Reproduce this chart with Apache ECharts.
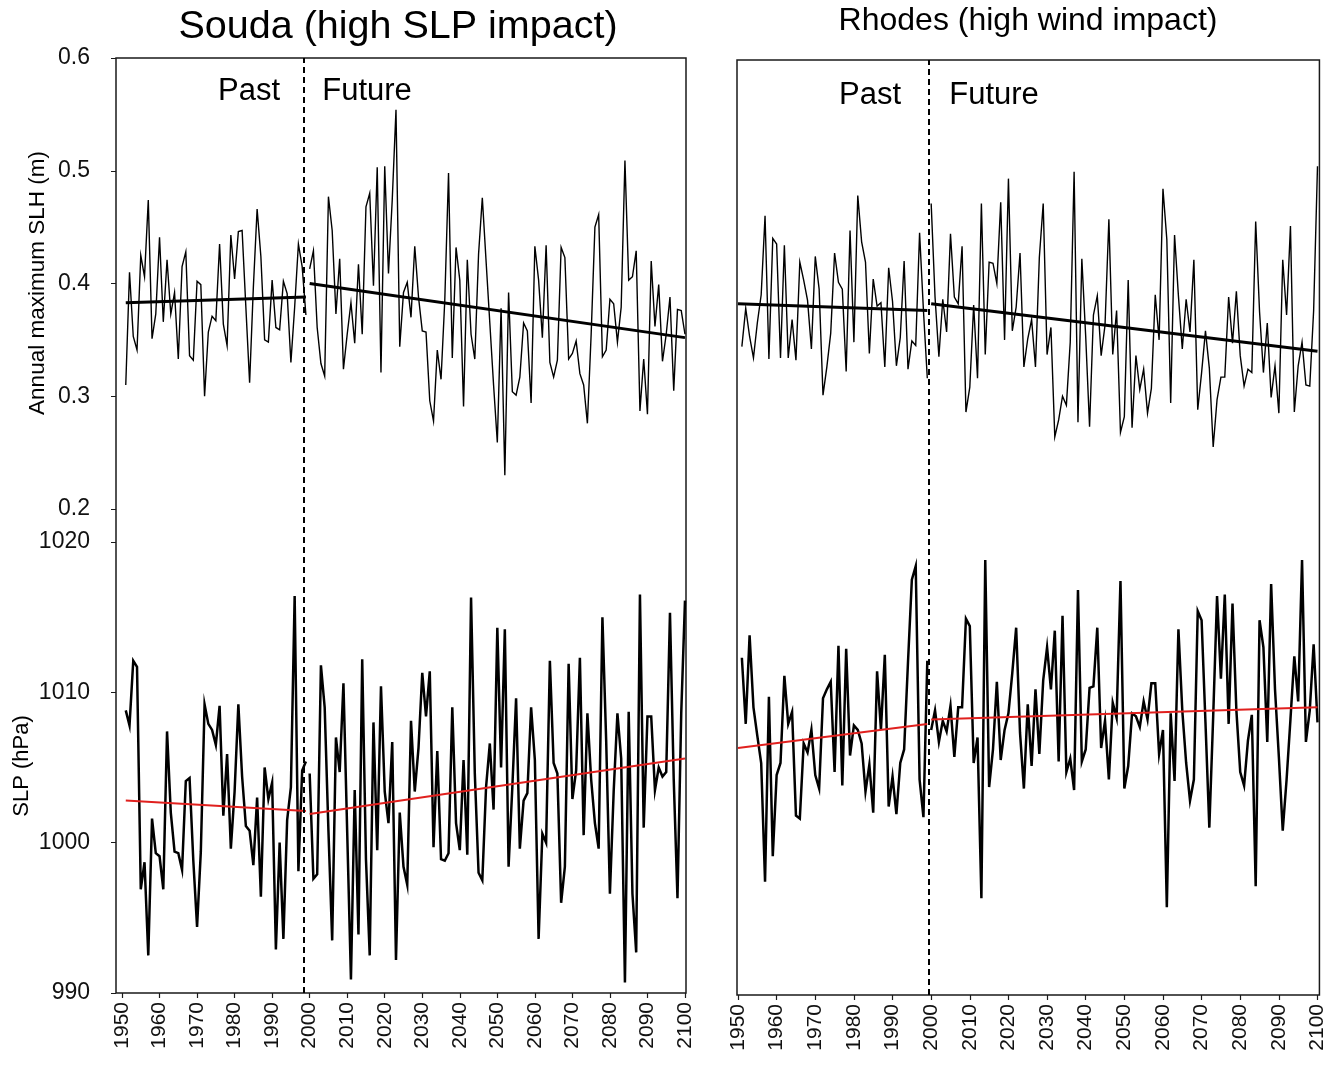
<!DOCTYPE html>
<html>
<head>
<meta charset="utf-8">
<script src="https://cdn.jsdelivr.net/npm/echarts@6/dist/echarts.min.js"></script>
<style>
  html, body { margin: 0; padding: 0; background: #fff; }
  #chart { width: 1328px; height: 1069px; }
</style>
</head>
<body>
<div id="chart"></div>
<script>
// ---- tick labels ----
const decadeTicks = [1950, 1960, 1970, 1980, 1990, 2000, 2010, 2020, 2030, 2040, 2050, 2060, 2070, 2080, 2090, 2100];
const slhTicks = [0.2, 0.3, 0.4, 0.5, 0.6];
const slpTicks = [990, 1000, 1010, 1020];

// ---- Souda: annual maximum sea level height (m) ----
const soudaSlhPastStart = 1951;
const soudaSlhPast = [
  0.310, 0.410, 0.353, 0.341, 0.425, 0.406, 0.474, 0.351, 0.373, 0.441,
  0.366, 0.421, 0.373, 0.392, 0.333, 0.415, 0.428, 0.336, 0.332, 0.402,
  0.399, 0.300, 0.357, 0.371, 0.367, 0.435, 0.364, 0.345, 0.443, 0.404,
  0.446, 0.447, 0.379, 0.312, 0.397, 0.466, 0.424, 0.350, 0.348, 0.403,
  0.361, 0.359, 0.402, 0.391, 0.330, 0.379, 0.435, 0.415, 0.372
];
const soudaSlhFutureStart = 2000;
const soudaSlhFuture = [
  0.413, 0.429, 0.361, 0.329, 0.318, 0.477, 0.447, 0.373, 0.422, 0.324,
  0.355, 0.383, 0.347, 0.417, 0.355, 0.468, 0.480, 0.398, 0.503, 0.321,
  0.504, 0.409, 0.474, 0.554, 0.344, 0.392, 0.401, 0.370, 0.433, 0.388,
  0.358, 0.357, 0.296, 0.278, 0.341, 0.315, 0.385, 0.498, 0.334, 0.432,
  0.403, 0.291, 0.421, 0.355, 0.333, 0.426, 0.476, 0.420, 0.365, 0.310,
  0.259, 0.378, 0.230, 0.392, 0.304, 0.301, 0.317, 0.365, 0.358, 0.294,
  0.433, 0.403, 0.352, 0.434, 0.330, 0.317, 0.332, 0.432, 0.423, 0.333,
  0.338, 0.349, 0.320, 0.310, 0.276, 0.355, 0.450, 0.461, 0.335, 0.341,
  0.386, 0.382, 0.348, 0.379, 0.509, 0.403, 0.406, 0.429, 0.287, 0.333,
  0.284, 0.420, 0.362, 0.399, 0.331, 0.355, 0.388, 0.305, 0.377, 0.376,
  0.355
];
const soudaSlhTrendPast = [[1951, 0.383], [1999, 0.388]];
const soudaSlhTrendFuture = [[2000, 0.400], [2100, 0.352]];

// ---- Souda: sea level pressure (hPa) ----
const soudaSlpPastStart = 1951;
const soudaSlpPast = [
  1008.8, 1007.8, 1012.1, 1011.7, 996.9, 998.7, 992.5, 1001.6, 999.3, 999.1,
  996.9, 1007.4, 1002.0, 999.4, 999.3, 998.2, 1004.1, 1004.3, 998.8, 994.4,
  999.4, 1009.2, 1007.9, 1007.5, 1006.5, 1009.1, 1001.8, 1005.9, 999.6, 1003.4,
  1009.2, 1004.4, 1001.1, 1000.8, 998.5, 1003.0, 996.4, 1005.0, 1002.9, 1004.0,
  992.9, 1000.0, 993.6, 1001.5, 1003.7, 1016.4, 998.1, 1004.8, 1005.4
];
const soudaSlpFutureStart = 2000;
const soudaSlpFuture = [
  1004.6, 997.6, 997.9, 1011.8, 1009.0, 1000.8, 993.5, 1007.0, 1004.7, 1010.6,
  1000.7, 990.9, 1003.5, 993.9, 1012.2, 998.9, 992.5, 1008.0, 999.5, 1010.4,
  1003.4, 1001.3, 1006.7, 992.2, 1002.0, 998.4, 997.2, 1008.1, 1003.4, 1006.3,
  1011.3, 1008.4, 1011.4, 999.7, 1006.1, 998.9, 998.8, 999.3, 1009.0, 1001.3,
  999.5, 1005.5, 999.2, 1016.3, 1004.6, 998.0, 997.5, 1003.7, 1006.6, 1002.2,
  1014.3, 1005.0, 1014.2, 998.4, 1003.7, 1009.6, 999.6, 1002.8, 1003.3, 1009.0,
  1005.5, 993.6, 1000.6, 1000.0, 1012.1, 1005.3, 1004.6, 996.0, 998.4, 1011.9,
  1002.9, 1004.8, 1012.3, 1000.5, 1008.6, 1004.2, 1001.3, 999.6, 1015.0, 1006.8,
  996.6, 1003.4, 1008.6, 1005.6, 990.7, 1008.7, 996.6, 992.7, 1016.5, 1001.0,
  1008.4, 1008.4, 1003.5, 1005.0, 1004.4, 1004.7, 1015.3, 1004.2, 996.3, 1008.6,
  1016.1
];
const soudaSlpTrendPast = [[1951, 1002.8], [1999, 1002.1]];
const soudaSlpTrendFuture = [[2000, 1001.9], [2100, 1005.6]];

// ---- Rhodes: annual maximum sea level height (m) ----
const rhodesSlhPastStart = 1951;
const rhodesSlhPast = [
  0.344, 0.378, 0.353, 0.334, 0.365, 0.390, 0.460, 0.333, 0.440, 0.435,
  0.334, 0.434, 0.334, 0.368, 0.332, 0.419, 0.403, 0.385, 0.342, 0.424,
  0.395, 0.301, 0.326, 0.356, 0.427, 0.401, 0.395, 0.322, 0.447, 0.348,
  0.478, 0.437, 0.419, 0.338, 0.404, 0.380, 0.383, 0.326, 0.414, 0.384,
  0.327, 0.352, 0.420, 0.324, 0.349, 0.345, 0.445, 0.376, 0.316
];
const rhodesSlhFutureStart = 2000;
const rhodesSlhFuture = [
  0.471, 0.388, 0.335, 0.386, 0.357, 0.444, 0.388, 0.382, 0.433, 0.286,
  0.308, 0.381, 0.316, 0.471, 0.337, 0.419, 0.418, 0.400, 0.472, 0.350,
  0.493, 0.358, 0.379, 0.427, 0.326, 0.351, 0.368, 0.326, 0.423, 0.471,
  0.337, 0.361, 0.264, 0.279, 0.300, 0.292, 0.348, 0.499, 0.277, 0.422,
  0.353, 0.273, 0.372, 0.389, 0.336, 0.363, 0.457, 0.337, 0.376, 0.268,
  0.282, 0.403, 0.272, 0.336, 0.306, 0.324, 0.285, 0.307, 0.390, 0.350,
  0.484, 0.439, 0.294, 0.443, 0.389, 0.342, 0.386, 0.357, 0.421, 0.288,
  0.321, 0.358, 0.325, 0.255, 0.297, 0.317, 0.317, 0.388, 0.347, 0.393,
  0.336, 0.309, 0.324, 0.321, 0.455, 0.375, 0.321, 0.365, 0.299, 0.327,
  0.285, 0.421, 0.372, 0.451, 0.286, 0.327, 0.348, 0.310, 0.309, 0.376,
  0.504
];
const rhodesSlhTrendPast = [[1950, 0.382], [1999, 0.376]];
const rhodesSlhTrendFuture = [[2000, 0.382], [2100, 0.340]];

// ---- Rhodes: sea level pressure (hPa) ----
const rhodesSlpPastStart = 1951;
const rhodesSlpPast = [
  1012.3, 1007.9, 1013.8, 1009.0, 1007.1, 1005.3, 997.4, 1009.7, 999.1, 1004.5,
  1005.3, 1011.1, 1007.9, 1008.7, 1001.8, 1001.6, 1006.6, 1006.0, 1007.5, 1004.5,
  1003.6, 1009.6, 1010.2, 1010.7, 1004.7, 1013.1, 1003.8, 1012.9, 1005.8, 1007.8,
  1007.5, 1006.6, 1003.4, 1005.2, 1002.0, 1011.4, 1007.5, 1012.5, 1002.4, 1004.4,
  1001.9, 1005.3, 1006.2, 1012.0, 1017.5, 1018.4, 1004.2, 1001.7, 1012.1
];
const rhodesSlpFutureStart = 2000;
const rhodesSlpFuture = [
  1007.5, 1008.8, 1006.7, 1008.1, 1007.4, 1009.1, 1005.7, 1009.0, 1009.0, 1014.9,
  1014.4, 1005.3, 1007.0, 996.3, 1018.8, 1003.7, 1006.2, 1010.7, 1005.5, 1007.5,
  1008.6, 1011.3, 1014.3, 1007.3, 1003.6, 1009.2, 1005.1, 1010.2, 1005.9, 1010.8,
  1013.0, 1010.2, 1014.1, 1005.4, 1015.1, 1004.7, 1005.6, 1003.5, 1016.8, 1005.4,
  1006.2, 1010.3, 1010.4, 1014.3, 1006.3, 1008.1, 1004.2, 1009.3, 1008.3, 1017.4,
  1003.6, 1005.1, 1008.6, 1008.4, 1007.7, 1009.4, 1008.2, 1010.6, 1010.6, 1005.9,
  1007.5, 995.7, 1008.6, 1004.1, 1014.2, 1008.8, 1005.3, 1002.8, 1004.2, 1015.4,
  1014.8, 1008.0, 1001.0, 1008.4, 1016.4, 1010.9, 1016.5, 1007.9, 1015.9, 1008.8,
  1004.7, 1003.8, 1006.8, 1008.5, 997.1, 1014.8, 1013.0, 1006.7, 1017.2, 1010.2,
  1005.7, 1000.8, 1004.2, 1008.2, 1012.4, 1009.4, 1018.8, 1006.7, 1008.8, 1013.2,
  1008.0
];
const rhodesSlpTrendPast = [[1950, 1006.3], [1999, 1007.9]];
const rhodesSlpTrendFuture = [[2000, 1008.2], [2100, 1009.0]];

// year separating the past and future periods in each panel
const soudaSplitYear = 1998.3;
const rhodesSplitYear = 1999.4;

// ---- layout helpers ----
const FONT = '"Liberation Sans", Arial, sans-serif';
const toPairs = (start, values) => values.map((v, i) => [start + i, v]);

// Each panel is one framed grid holding two stacked y scales:
// the sea level scale fills the upper part, the pressure scale the lower part.
// Pixel anchors: 0.6 m at y=58, 0.2 m at y=509, 1020 hPa at y=542, 990 hPa at y=993.
function slhExtent(top, bottom) {
  const perPx = 0.4 / (509 - 58);
  return { max: 0.6 - (top - 58) * perPx, min: 0.6 - (bottom - 58) * perPx };
}
function slpExtent(top, bottom) {
  const perPx = 30 / (993 - 542);
  return { max: 1020 + (542 - top) * perPx, min: 990 - (bottom - 993) * perPx };
}

const panels = [
  { left: 116, top: 58, width: 570, height: 935, xMin: 1948.4, xMax: 2100.27, labels: true },
  { left: 737, top: 60, width: 586, height: 935, xMin: 1949.74, xMax: 2100.5, labels: false }
];

const grid = panels.map(p => ({
  left: p.left, top: p.top, width: p.width, height: p.height,
  show: true, borderColor: '#1a1a1a', borderWidth: 1.5, backgroundColor: 'transparent'
}));

const xAxis = panels.map((p, i) => ({
  type: 'value', gridIndex: i, min: p.xMin, max: p.xMax, position: 'bottom',
  axisLine: { show: false, onZero: false },
  splitLine: { show: false },
  axisTick: { show: true, customValues: decadeTicks, length: 5, lineStyle: { color: '#1a1a1a', width: 1.2 } },
  axisLabel: {
    customValues: decadeTicks, rotate: 90, margin: 9,
    formatter: v => String(v),
    color: '#111', fontFamily: FONT, fontSize: 21
  }
}));

const yAxis = [];
panels.forEach((p, i) => {
  const bottom = p.top + p.height;
  const a = slhExtent(p.top, bottom);
  const b = slpExtent(p.top, bottom);
  [[a, slhTicks, v => v.toFixed(1)], [b, slpTicks, v => String(v)]].forEach(([ext, ticks, fmt]) => {
    yAxis.push({
      type: 'value', gridIndex: i, min: ext.min, max: ext.max, position: 'left', offset: 0,
      axisLine: { show: false, onZero: false }, splitLine: { show: false },
      axisTick: { show: p.labels, customValues: ticks, length: 5, lineStyle: { color: '#1a1a1a' } },
      axisLabel: {
        show: p.labels, customValues: ticks, margin: 26, formatter: fmt,
        color: '#111', fontFamily: FONT, fontSize: 23
      }
    });
  });
});

function line(xi, yi, data, width, color, z) {
  return {
    type: 'line', xAxisIndex: xi, yAxisIndex: yi, data,
    showSymbol: false, symbol: 'none', animation: false, silent: true,
    lineStyle: { color, width, join: 'miter' }, z: z || 2
  };
}

const series = [
  // Souda
  line(0, 0, toPairs(soudaSlhPastStart, soudaSlhPast), 1.4, '#000'),
  line(0, 0, toPairs(soudaSlhFutureStart, soudaSlhFuture), 1.4, '#000'),
  line(0, 0, soudaSlhTrendPast, 3, '#000', 4),
  line(0, 0, soudaSlhTrendFuture, 3, '#000', 4),
  line(0, 1, toPairs(soudaSlpPastStart, soudaSlpPast), 2.5, '#000'),
  line(0, 1, toPairs(soudaSlpFutureStart, soudaSlpFuture), 2.5, '#000'),
  line(0, 1, soudaSlpTrendPast, 2, '#e0201e', 4),
  line(0, 1, soudaSlpTrendFuture, 2, '#e0201e', 4),
  // Rhodes
  line(1, 2, toPairs(rhodesSlhPastStart, rhodesSlhPast), 1.4, '#000'),
  line(1, 2, toPairs(rhodesSlhFutureStart, rhodesSlhFuture), 1.4, '#000'),
  line(1, 2, rhodesSlhTrendPast, 3, '#000', 4),
  line(1, 2, rhodesSlhTrendFuture, 3, '#000', 4),
  line(1, 3, toPairs(rhodesSlpPastStart, rhodesSlpPast), 2.5, '#000'),
  line(1, 3, toPairs(rhodesSlpFutureStart, rhodesSlpFuture), 2.5, '#000'),
  line(1, 3, rhodesSlpTrendPast, 2, '#e0201e', 4),
  line(1, 3, rhodesSlpTrendFuture, 2, '#e0201e', 4)
];

// dashed separators between the past and future periods
[[0, 0, soudaSplitYear], [1, 2, rhodesSplitYear]].forEach(([xi, yi, yr]) => {
  series.push({
    type: 'line', xAxisIndex: xi, yAxisIndex: yi, data: [], silent: true, animation: false,
    markLine: {
      silent: true, symbol: 'none', animation: false,
      label: { show: false },
      lineStyle: { color: '#000', width: 2, type: [6, 4] },
      data: [{ xAxis: yr }]
    }
  });
});

function text(x, y, str, size, extra, family) {
  return Object.assign({
    type: 'text', x, y, silent: true,
    style: {
      text: str, fill: '#000', font: `${size}px ${family || FONT}`,
      textAlign: 'center', textVerticalAlign: 'middle'
    }
  }, extra || {});
}

const graphic = [
  text(398, 27, 'Souda (high SLP impact)', 39.5),
  text(1028, 21, 'Rhodes (high wind impact)', 32),
  text(249, 91, 'Past', 31),
  text(367, 91, 'Future', 31),
  text(870, 95, 'Past', 31),
  text(994, 95, 'Future', 31),
  text(38, 283, 'Annual maximum SLH (m)', 22.5, { rotation: Math.PI / 2 }),
  text(22, 766, 'SLP (hPa)', 22, { rotation: Math.PI / 2 })
];

const chart = echarts.init(document.getElementById('chart'), null, { renderer: 'canvas' });
chart.setOption({
  animation: false,
  backgroundColor: '#fff',
  grid, xAxis, yAxis, series, graphic
});
</script>
</body>
</html>
